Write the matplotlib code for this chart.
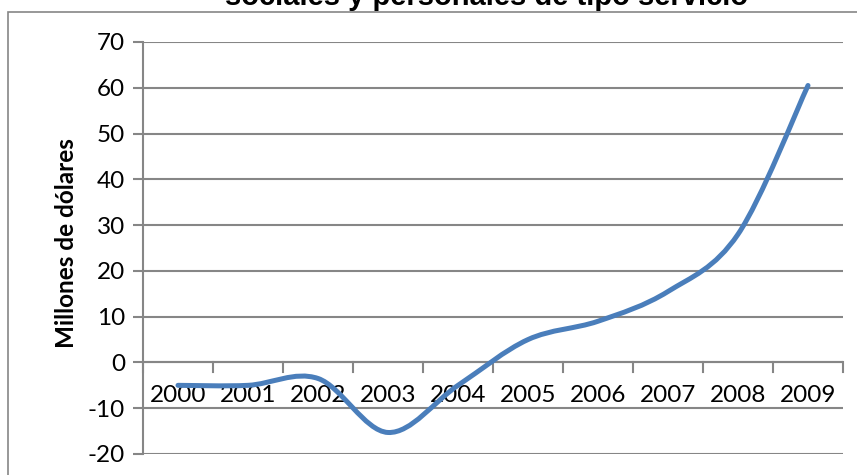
import matplotlib
matplotlib.use("Agg")
import matplotlib.pyplot as plt
from matplotlib.path import Path
from matplotlib.patches import PathPatch, Rectangle

plt.rcParams['axes.unicode_minus'] = False

years = ['2000', '2001', '2002', '2003', '2004', '2005', '2006', '2007', '2008', '2009']
values = [-5, -5, -3.5, -15.3, -5, 5, 9, 15.5, 28, 60.5]
title = 'sociales y personales de tipo servicio'
ylabel = 'Millones de dólares'

grid_col = '#868686'
line_col = '#4A7EBB'

fig = plt.figure(figsize=(8.57, 4.75), dpi=100)
ax = fig.add_axes([143 / 857, 21 / 475, 700 / 857, 412 / 475])

# smoothed line like Excel (Catmull-Rom segments as cubic Bezier)
xs = list(range(len(values)))
pts = list(zip(xs, values))
verts = [pts[0]]
codes = [Path.MOVETO]
for i in range(len(pts) - 1):
    p0 = pts[i - 1] if i > 0 else pts[i]
    p1 = pts[i]
    p2 = pts[i + 1]
    p3 = pts[i + 2] if i + 2 < len(pts) else pts[i + 1]
    c1 = (p1[0] + (p2[0] - p0[0]) / 6, p1[1] + (p2[1] - p0[1]) / 6)
    c2 = (p2[0] - (p3[0] - p1[0]) / 6, p2[1] - (p3[1] - p1[1]) / 6)
    verts += [c1, c2, p2]
    codes += [Path.CURVE4] * 3
ax.add_patch(PathPatch(Path(verts, codes), facecolor='none', edgecolor=line_col,
                       lw=3.6, capstyle='round', joinstyle='round', zorder=3))

ax.set_xlim(-0.5, len(years) - 0.5)
ax.set_ylim(-20, 70)
ax.set_yticks(range(-20, 71, 10))
ax.yaxis.grid(True, color=grid_col, lw=1.5)
ax.set_axisbelow(True)

for s in ['top', 'right', 'bottom']:
    ax.spines[s].set_visible(False)
ax.spines['left'].set_color(grid_col)
ax.spines['left'].set_linewidth(1.5)

# category axis sits on y = 0
ax.axhline(0, color=grid_col, lw=1.5, zorder=1)
ax.set_xticks(xs)
ax.set_xticklabels([])
for x in range(len(years) + 1):
    ax.plot([x - 0.5, x - 0.5], [0, -2], color=grid_col, lw=1.5, clip_on=False, zorder=1)
for x, lab in zip(xs, years):
    ax.text(x, -7.3, lab, ha='center', va='center', fontsize=17.5, family='Lato', zorder=2)
ax.tick_params(axis='x', length=0)

ax.tick_params(axis='y', length=7, width=1.5, color=grid_col, labelsize=17.5, pad=6)
for t in ax.get_yticklabels():
    t.set_family('Lato')

fig.text(66 / 857, 1 - 243 / 475, ylabel, rotation=90, ha='center', va='center',
         fontsize=17.5, fontweight='bold', family='Lato')
fig.text(487 / 857, 1 - 5 / 475, title, ha='center', va='baseline',
         fontsize=21, fontweight='bold', family='Liberation Sans')

# chart frame
fig.patches.append(Rectangle((8 / 857, -0.1), 1.2, 1.1 - 12 / 475, transform=fig.transFigure,
                             fill=False, edgecolor=grid_col, lw=1.2))

fig.savefig('out.png', dpi=100)
